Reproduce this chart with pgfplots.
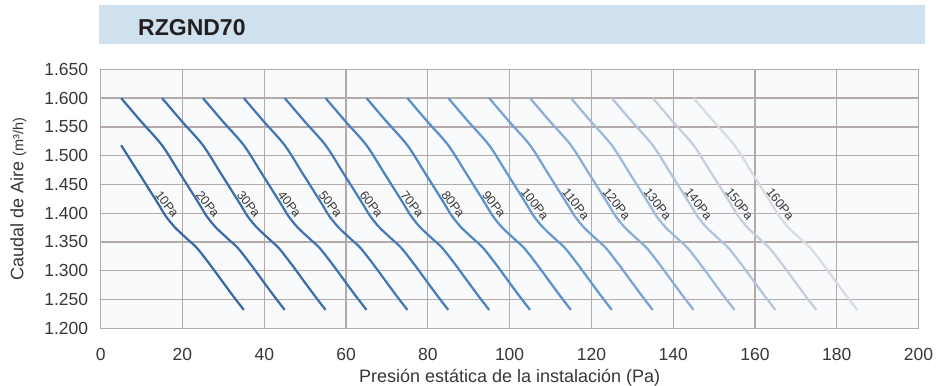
\documentclass[border=0pt]{standalone}
\usepackage{fontspec}
\setmainfont{Liberation Sans}
\usepackage{pgfplots}
\pgfplotsset{compat=1.18}
\definecolor{gridc}{RGB}{180,170,170}
\definecolor{barc}{RGB}{207,225,238}
\definecolor{titlec}{RGB}{35,31,32}
\definecolor{labc}{RGB}{55,55,55}
\definecolor{bgc}{RGB}{248,250,252}
\definecolor{c1}{RGB}{57,104,166}
\definecolor{c2}{RGB}{59,107,169}
\definecolor{c3}{RGB}{61,110,172}
\definecolor{c4}{RGB}{63,114,177}
\definecolor{c5}{RGB}{66,119,182}
\definecolor{c6}{RGB}{69,123,187}
\definecolor{c7}{RGB}{73,129,192}
\definecolor{c8}{RGB}{79,135,198}
\definecolor{c9}{RGB}{89,143,204}
\definecolor{c10}{RGB}{101,151,209}
\definecolor{c11}{RGB}{118,161,213}
\definecolor{c12}{RGB}{138,172,215}
\definecolor{c13}{RGB}{158,184,218}
\definecolor{c14}{RGB}{178,195,220}
\definecolor{c15}{RGB}{198,205,220}
\definecolor{c16}{RGB}{216,219,226}
\begin{document}
\begin{tikzpicture}[x=1bp,y=1bp]
\path[use as bounding box] (0,0) rectangle (937,385);
\fill[barc] (99,341) rectangle (925,380);
\node[anchor=base west, font=\bfseries\fontsize{23bp}{26bp}\selectfont, text=titlec, inner sep=0pt] at (138,350) {RZGND70};
\begin{axis}[
  at={(100.7bp,56.7bp)}, anchor=south west,
  scale only axis, width=817.8bp, height=259bp,
  xmin=0, xmax=200, ymin=1200, ymax=1650,
  xtick={0,20,...,200}, ytick={1200,1250,...,1650},
  grid=major, major grid style={gridc, line width=1.3bp},
  axis line style={gridc, line width=1.3bp},
  major tick length=0pt,
  axis background/.style={fill=bgc},
  /pgf/number format/assume math mode=true,
  /pgf/number format/1000 sep={.},
  tick label style={font=\fontsize{17.5bp}{20bp}\selectfont, text=labc},
  yticklabel style={xshift=-9bp},
  xticklabel style={yshift=-16bp},
  xlabel={Presión estática de la instalación (Pa)},
  xlabel style={at={(axis description cs:0.5,-0.1919)}, anchor=center, font=\fontsize{18bp}{21bp}\selectfont, text=labc},
  ylabel={Caudal de Aire {\fontsize{14.5bp}{16bp}\selectfont (m³/h)}},
  ylabel style={at={(axis description cs:-0.1007,0.5)}, anchor=center, font=\fontsize{18bp}{21bp}\selectfont, text=labc},
  every axis plot/.append style={line width=2.2bp, smooth, no marks},
]
\addplot[c1] coordinates {(5,1518) (9.3,1470) (14,1417) (15.9,1395) (18.2,1375) (21.2,1355) (23.6,1339) (26.8,1310) (29.9,1280) (32.5,1255) (35,1232)};
\addplot[c2] coordinates {(5,1600) (9.8,1560) (15,1518) (19.3,1470) (24,1417) (25.9,1395) (28.2,1375) (31.2,1355) (33.6,1339) (36.8,1310) (39.9,1280) (42.5,1255) (45,1232)};
\addplot[c3] coordinates {(15,1600) (19.8,1560) (25,1518) (29.3,1470) (34,1417) (35.9,1395) (38.2,1375) (41.2,1355) (43.6,1339) (46.8,1310) (49.9,1280) (52.5,1255) (55,1232)};
\addplot[c4] coordinates {(25,1600) (29.8,1560) (35,1518) (39.3,1470) (44,1417) (45.9,1395) (48.2,1375) (51.2,1355) (53.6,1339) (56.8,1310) (59.9,1280) (62.5,1255) (65,1232)};
\addplot[c5] coordinates {(35,1600) (39.8,1560) (45,1518) (49.3,1470) (54,1417) (55.9,1395) (58.2,1375) (61.2,1355) (63.6,1339) (66.8,1310) (69.9,1280) (72.5,1255) (75,1232)};
\addplot[c6] coordinates {(45,1600) (49.8,1560) (55,1518) (59.3,1470) (64,1417) (65.9,1395) (68.2,1375) (71.2,1355) (73.6,1339) (76.8,1310) (79.9,1280) (82.5,1255) (85,1232)};
\addplot[c7] coordinates {(55,1600) (59.8,1560) (65,1518) (69.3,1470) (74,1417) (75.9,1395) (78.2,1375) (81.2,1355) (83.6,1339) (86.8,1310) (89.9,1280) (92.5,1255) (95,1232)};
\addplot[c8] coordinates {(65,1600) (69.8,1560) (75,1518) (79.3,1470) (84,1417) (85.9,1395) (88.2,1375) (91.2,1355) (93.6,1339) (96.8,1310) (99.9,1280) (102.5,1255) (105,1232)};
\addplot[c9] coordinates {(75,1600) (79.8,1560) (85,1518) (89.3,1470) (94,1417) (95.9,1395) (98.2,1375) (101.2,1355) (103.6,1339) (106.8,1310) (109.9,1280) (112.5,1255) (115,1232)};
\addplot[c10] coordinates {(85,1600) (89.8,1560) (95,1518) (99.3,1470) (104,1417) (105.9,1395) (108.2,1375) (111.2,1355) (113.6,1339) (116.8,1310) (119.9,1280) (122.5,1255) (125,1232)};
\addplot[c11] coordinates {(95,1600) (99.8,1560) (105,1518) (109.3,1470) (114,1417) (115.9,1395) (118.2,1375) (121.2,1355) (123.6,1339) (126.8,1310) (129.9,1280) (132.5,1255) (135,1232)};
\addplot[c12] coordinates {(105,1600) (109.8,1560) (115,1518) (119.3,1470) (124,1417) (125.9,1395) (128.2,1375) (131.2,1355) (133.6,1339) (136.8,1310) (139.9,1280) (142.5,1255) (145,1232)};
\addplot[c13] coordinates {(115,1600) (119.8,1560) (125,1518) (129.3,1470) (134,1417) (135.9,1395) (138.2,1375) (141.2,1355) (143.6,1339) (146.8,1310) (149.9,1280) (152.5,1255) (155,1232)};
\addplot[c14] coordinates {(125,1600) (129.8,1560) (135,1518) (139.3,1470) (144,1417) (145.9,1395) (148.2,1375) (151.2,1355) (153.6,1339) (156.8,1310) (159.9,1280) (162.5,1255) (165,1232)};
\addplot[c15] coordinates {(135,1600) (139.8,1560) (145,1518) (149.3,1470) (154,1417) (155.9,1395) (158.2,1375) (161.2,1355) (163.6,1339) (166.8,1310) (169.9,1280) (172.5,1255) (175,1232)};
\addplot[c16] coordinates {(145,1600) (149.8,1560) (155,1518) (159.3,1470) (164,1417) (165.9,1395) (168.2,1375) (171.2,1355) (173.6,1339) (176.8,1310) (179.9,1280) (182.5,1255) (185,1232)};
\begin{scope}[every node/.style={rotate=-52, font=\fontsize{12.5bp}{14bp}\selectfont, text=labc, inner sep=0pt}]
\node at (axis cs:16.2,1416) {10Pa};
\node at (axis cs:26.2,1416) {20Pa};
\node at (axis cs:36.2,1416) {30Pa};
\node at (axis cs:46.2,1416) {40Pa};
\node at (axis cs:56.2,1416) {50Pa};
\node at (axis cs:66.2,1416) {60Pa};
\node at (axis cs:76.2,1416) {70Pa};
\node at (axis cs:86.2,1416) {80Pa};
\node at (axis cs:96.2,1416) {90Pa};
\node at (axis cs:106.2,1416) {100Pa};
\node at (axis cs:116.2,1416) {110Pa};
\node at (axis cs:126.2,1416) {120Pa};
\node at (axis cs:136.2,1416) {130Pa};
\node at (axis cs:146.2,1416) {140Pa};
\node at (axis cs:156.2,1416) {150Pa};
\node at (axis cs:166.2,1416) {160Pa};
\end{scope}
\end{axis}
\end{tikzpicture}
\end{document}
